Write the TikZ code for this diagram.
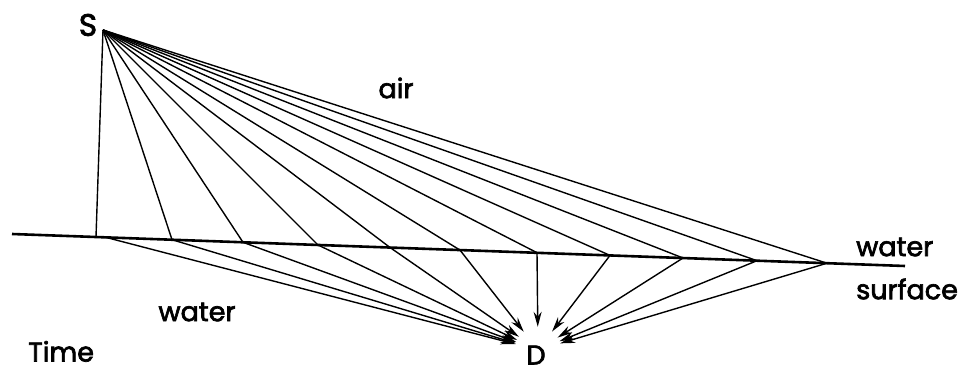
\documentclass[tikz,border=0pt]{standalone}
\usepackage{fontspec}
\setmainfont{Poppins}
\newfontfamily\lblfont{Poppins}[FakeBold=2.5]
\usetikzlibrary{arrows.meta}
\begin{document}
\begin{tikzpicture}[x=1pt,y=-1pt,
  ray/.style={line width=1.4pt,black},
  wray/.style={line width=1.4pt,black,-{Stealth[length=15pt,width=8pt]}},
  surf/.style={line width=2.6pt,black},
  lbl/.style={font=\lblfont\fontsize{27}{30}\selectfont,inner sep=0pt},
  big/.style={font=\lblfont\fontsize{31}{34}\selectfont,inner sep=0pt}]
\useasboundingbox (0,0) rectangle (973,374);
\fill[white] (0,0) rectangle (973,374);
% surface
\coordinate (L) at (12,234);
\coordinate (R) at (905,266);
\draw[surf] (L) -- (R);
% source and target
\coordinate (S) at (103,30);
\node[circle,minimum size=46pt,inner sep=0pt] (Dz) at (538,350) {};
% surface points
\coordinate (P0) at (96,237.0);
\coordinate (Q0) at (106,237.4);
\coordinate (P1) at (172,239.7);
\coordinate (P2) at (243,242.3);
\coordinate (P3) at (318,245.0);
\coordinate (P4) at (390,247.5);
\coordinate (P5) at (460,250.1);
\coordinate (P6) at (537,252.7);
\coordinate (P7) at (610,255.4);
\coordinate (P8) at (683,258.0);
\coordinate (P9) at (757,260.7);
\coordinate (P10) at (827,263.2);
% air rays
\foreach \p in {P0,P1,P2,P3,P4,P5,P6,P7,P8,P9,P10}
  \draw[ray] (S) -- (\p);
% water rays
\foreach \p in {Q0,P1,P2,P3,P4,P5,P6,P7,P8,P9,P10}
  \draw[wray] (\p) -- (Dz);
% labels
\node[big] (Slbl) at (88,25) {S};
\node[lbl] (Dlbl) at (536,355) {D};
\node[lbl] (air) at (396,88) {air};
\node[lbl] (water) at (197,312) {water};
\node[lbl,anchor=west] (ws1) at (856,247) {water};
\node[lbl,anchor=west] (ws2) at (856,289) {surface};
\node[lbl,anchor=south west] (time) at (28,362) {Time};
\end{tikzpicture}
\end{document}
